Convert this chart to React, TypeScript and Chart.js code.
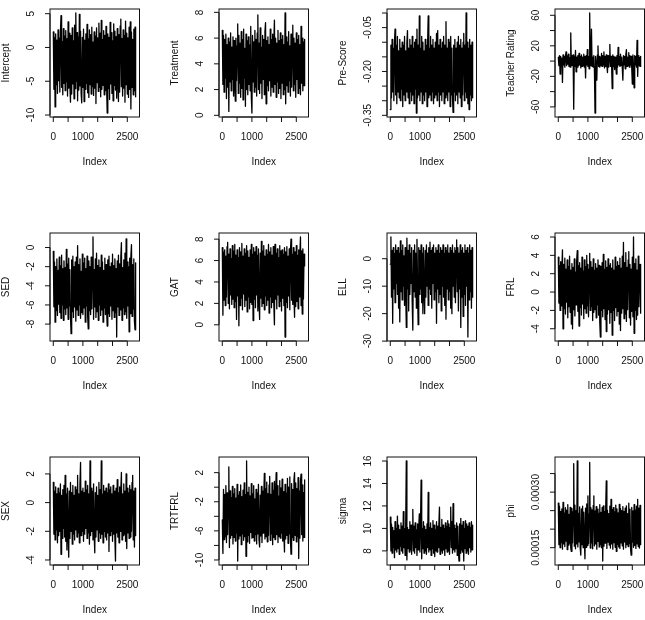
import { useEffect, useRef } from "react";
import { Chart, registerables } from "chart.js";

Chart.register(...registerables);

// Sampler settings: 2800 iterations, one stored draw every 20 iterations.
const N_ITER = 2800;
const THIN = 20;

const indexTicks = [0, 500, 1000, 1500, 2000, 2500];
const indexLabels = [0, 1000, 2500];

// Stored draws for each parameter
const intercept = [
  2.3, -6.2, 1.5, -8.8, 2.0, -5.5, 1.1, -6.8, 2.6, -4.9,
  1.4, -6.6, 2.2, 4.7, -5.9, 0.9, -7.0, 2.8, -5.3, 1.7,
  -6.4, 2.5, -5.1, 1.3, -7.2, 3.8, -6.0, 2.1, -5.6, -8.1,
  1.8, -6.9, 2.9, -5.4, 1.0, -7.6, 3.3, -6.1, 5.1, -5.0,
  2.2, -7.9, 1.6, -6.3, 4.9, -5.7, 2.4, -6.8, -8.2, 1.5,
  -5.9, 2.7, -8.0, 1.1, -6.2, 2.0, -5.3, 3.4, -6.7, 1.3,
  -7.4, 2.6, -5.5, 1.9, -6.9, 3.0, -5.8, 0.8, -7.1, 2.3,
  -6.0, 1.7, -8.3, 2.9, -5.2, 1.4, -6.5, 3.6, -5.9, 2.1,
  -7.3, 4.0, -6.2, 1.2, -5.6, 2.5, -7.0, 1.8, -6.4, 3.1,
  -5.7, -9.7, 2.0, -6.1, 1.5, -7.7, 3.7, -5.4, 2.2, -6.8,
  1.0, -7.9, 3.5, -5.6, 2.4, -6.3, 1.6, -7.5, 2.8, -5.0,
  -8.0, 1.9, -6.6, 3.2, 4.2, -5.8, 1.3, -7.2, 2.6, -6.0,
  1.8, -8.1, 3.9, -5.5, 2.1, -6.9, 1.4, -7.4, 3.0, -6.2,
  3.8, -9.1, 2.3, -5.9, 1.2, -7.0, 2.7, -6.4, 3.0, -7.3,
];

const treatment = [
  6.6, 2.4, 6.2, 1.8, 5.9, 2.9, 6.3, 1.3, 5.5, 2.2,
  6.0, 0.3, 5.7, 2.6, 6.4, 1.9, 5.3, 2.8, 6.1, 1.5,
  5.8, 2.3, 1.1, 6.0, 2.7, 5.4, 7.1, 1.7, 6.2, 2.5,
  5.6, 1.4, 6.5, 2.1, 5.9, 1.2, 6.7, 2.9, 5.2, 0.7,
  6.3, 2.0, 5.8, 1.6, 6.1, 2.4, 5.5, 1.9, 6.9, 1.4,
  0.18, 6.2, 2.6, 5.7, 1.8, 6.6, 2.2, 5.9, 1.5, 6.4,
  7.8, 2.0, 5.6, 1.7, 6.8, 2.5, 5.3, 1.3, 6.2, 2.8,
  5.9, 1.6, 6.5, 7.2, 0.9, 5.8, 2.3, 6.1, 1.9, 5.5,
  2.7, 6.7, 1.5, 5.9, 2.2, 6.3, 1.8, 5.7, 7.4, 2.4,
  6.0, 1.4, 5.6, 2.6, 6.6, 1.7, 5.8, 2.1, 6.4, 1.3,
  5.9, 2.5, 6.2, 1.6, 5.5, 2.0, 7.95, 0.9, 6.1, 2.3,
  5.7, 1.8, 6.5, 2.7, 5.4, 1.5, 6.3, 2.2, 5.8, 7.0,
  1.9, 6.0, 2.4, 5.6, 1.4, 6.4, 2.8, 5.9, 1.7, 6.2,
  2.1, 5.5, 1.6, 6.9, 2.5, 6.0, 1.9, 5.7, 2.3, 5.9,
];

const preScore = [
  -0.33, -0.11, -0.29, -0.09, -0.27, -0.12, -0.30, -0.10, -0.055, -0.28,
  -0.11, -0.31, -0.08, -0.27, -0.13, -0.29, -0.09, -0.30, -0.12, -0.26,
  -0.10, -0.32, -0.11, -0.28, -0.08, -0.30, -0.13, -0.27, -0.10, -0.06,
  -0.29, -0.12, -0.31, -0.09, -0.27, -0.11, -0.30, -0.08, -0.28, -0.12,
  -0.31, -0.10, -0.26, -0.09, -0.342, -0.055, -0.29, -0.11, -0.28, -0.01,
  -0.30, -0.12, -0.27, -0.08, -0.31, -0.10, -0.28, -0.13, -0.30, -0.09,
  -0.27, -0.11, -0.32, -0.10, -0.01, -0.29, -0.12, -0.28, -0.08, -0.30,
  -0.11, -0.27, -0.09, -0.31, -0.12, -0.29, -0.10, -0.28, -0.07, -0.30,
  -0.06, -0.27, -0.11, -0.32, -0.09, -0.28, -0.12, -0.30, -0.10, -0.27,
  -0.08, -0.31, -0.11, -0.29, -0.03, -0.28, -0.12, -0.30, -0.09, -0.27,
  -0.10, -0.32, -0.08, -0.28, -0.12, -0.29, -0.34, -0.11, -0.27, -0.09,
  -0.30, -0.12, -0.28, -0.10, -0.31, -0.08, -0.27, -0.11, -0.29, -0.09,
  -0.32, -0.12, -0.28, -0.10, -0.07, -0.30, -0.11, -0.27, 0.0, -0.29,
  -0.10, -0.31, -0.12, -0.33, -0.09, -0.28, -0.11, -0.30, -0.10, -0.29,
];

const teacherRating = [
  5, -6, 7, -17, 6, -7, 4, -28, 8, -5,
  6, -8, 5, 12, -6, 7, -4, 9, -7, 5,
  -8, 37, -6, 7, -5, 8, -63, 6, -7, 14,
  -14, 5, -8, 7, -6, 10, -5, 6, -9, 8,
  -7, 5, -6, 9, -8, 6, -22, 7, -5, 15,
  -7, 6, -10, 63, -6, 8, 42, -7, 5, -8,
  7, -12, -68, 6, -5, -25, 8, 20, -7, 6,
  -8, 5, -6, 10, -7, 7, -5, 12, -9, 6,
  -7, 8, -6, -15, 7, -8, 5, 22, -7, 6,
  -5, -36, 8, -7, 6, -11, 5, -6, -17, 7,
  -8, 18, -5, 6, -7, 9, -6, 5, -8, -25,
  7, -5, 6, -10, 8, 15, -7, 5, -6, 11,
  -8, 7, -5, 6, -9, -30, 8, -6, -35, 7,
  -5, 6, -8, 27, -20, 7, -6, 5, -7, 6,
];

const sed = [
  -0.4, -6.2, -1.5, -7.8, -2.0, -6.6, -1.2, -7.1, -2.4, -5.9,
  -1.0, -6.8, -1.9, -7.4, -0.8, -6.0, -2.2, -7.6, -1.4, -6.4,
  -2.1, -7.0, -0.2, -6.3, -1.7, -7.5, -1.1, -6.1, -2.3, -7.2,
  -9.0, -1.3, -6.7, -0.9, -7.3, -2.0, -6.2, -1.5, -7.7, -1.0,
  -6.5, 0.2, -7.1, -1.8, -6.0, -1.2, -7.4, -2.5, -6.8, -0.7,
  -7.0, -1.6, -6.3, -1.1, -7.8, -2.2, -6.1, -0.9, -7.2, -8.5,
  -1.4, -6.6, -2.0, -7.0, -1.0, -6.4, -1.7, 1.1, -7.5, -2.3,
  -6.2, -1.2, -7.3, -0.6, -6.7, -1.9, -7.6, -1.3, -6.0, -2.1,
  -7.1, -0.8, -6.5, -1.5, -7.8, -2.4, -6.3, -1.1, -7.0, -1.8,
  -6.4, -8.2, -1.3, -6.9, -0.9, -7.2, -2.0, -6.1, -1.6, -7.5,
  -0.7, -6.6, -1.9, -7.3, -1.2, -6.8, -2.2, -9.35, -1.4, -6.2,
  -0.8, -7.1, -1.7, -6.5, -1.0, 0.5, -7.6, -2.1, -6.3, -1.3,
  -7.0, -0.6, -6.7, 0.9, -7.4, -1.5, -6.1, -2.0, -8.8, -1.1,
  -6.9, -0.9, 0.3, -7.2, -1.8, -6.4, -1.2, -7.7, -8.6, -1.6,
];

const gat = [
  7.2, 0.9, 6.8, 2.3, 7.0, 1.8, 6.4, 2.6, 7.3, 7.7,
  2.0, 6.6, 1.5, 7.1, 2.8, 6.2, 1.9, 7.4, 2.4, 6.9,
  1.6, 7.5, 2.2, 6.5, 0.5, 7.0, 2.7, 6.3, -0.1, 7.2,
  1.8, 6.8, 2.5, 7.6, 1.4, 6.4, 2.9, 7.1, 1.7, 6.7,
  2.3, 7.4, 1.2, 6.9, 2.6, 6.3, 1.5, 7.0, 2.1, 7.5,
  1.9, 6.6, 0.4, 7.2, 2.4, 6.8, 1.6, 7.3, 2.8, 6.5,
  1.3, 7.1, 2.2, 0.5, 6.7, 2.5, 7.8, 1.7, 6.9, 2.0,
  7.4, 1.4, 6.4, 2.7, 7.0, 1.8, 6.6, 2.3, 7.5, 1.1,
  6.8, 2.6, 7.2, 1.6, 6.5, 2.1, 7.3, 1.9, 0.0, 7.5,
  2.4, 6.7, 1.5, 7.1, 2.8, 6.3, 1.7, 7.4, 2.2, 6.9,
  1.3, 7.0, 2.5, 6.6, 1.8, 7.2, -1.14, 6.8, 2.1, 7.3,
  1.6, 6.4, 2.7, 7.1, 1.4, 6.9, 8.0, 2.3, 6.6, 1.9,
  7.2, 2.5, 0.7, 6.8, 1.7, 7.4, 2.2, 6.5, 1.5, 7.0,
  2.6, 6.7, 8.2, 1.8, 6.9, 1.0, 7.1, 2.4, 6.6, 5.5,
];

const ell = [
  -2, 7.9, -14, 3, -23.5, 4, -11, 2, -16, 5,
  -9, 3, -13, 4, -18, 2, -23, 6.5, -12, 3,
  -15, 5, -10, 1, -17, 4, -12, -25, 7.5, -11,
  3, -19, 5, -13, 2, -9, 4, -16, -26, 3,
  -12, 5, -14, 2, -18, 7, -10, -24, 4, -13,
  3, -11, 5, -16, 2, -20, 4, -12, -20, 3,
  -14, 5, -10, 2, -17, 4, -11, 6, -13, 3,
  -18, 4, -9, 5, -15, 2, -12, 4, -23.5, 3,
  -11, 5, -16, 2, -13, 4, -19, 3, -10, 5,
  -14, 2, -17, 4, -22, 3, -11, 5, -15, 2,
  -12, 4, -18, 3, -20, 5, -10, 2, -14, 4,
  -16, 3, 6.8, -12, 4, -19, 2, -11, 5, -25,
  3, -14, 4, -21, 2, -13, 5, -17, 3, -10,
  4, -28.5, 2, -15, 5, -12, 3, -18, 4, -14,
];

const frl = [
  3.8, -1.2, 2.9, -2.0, 3.3, -1.5, 2.6, 4.6, -4.0, 3.0,
  -1.8, 3.7, -2.4, 2.5, -1.1, 3.5, -2.8, 2.8, -1.6, 3.9,
  -2.2, 2.4, -3.5, 3.1, -4.0, 2.7, -1.9, 3.6, -2.6, 2.2,
  -1.4, 3.4, 4.5, -2.1, 2.9, -3.7, 3.2, -1.7, 2.6, -2.5,
  3.8, -1.3, 2.3, -2.9, 3.5, -1.8, 2.8, -2.3, 4.0, -1.5,
  3.0, -2.7, 2.5, 4.2, -2.0, 3.3, -1.6, 2.7, -3.1, 3.6,
  -2.2, 2.4, -1.9, 3.1, -2.8, 2.6, -1.4, 3.5, -2.5, 2.9,
  -3.3, -4.9, 2.8, -2.0, 3.2, -2.7, 4.1, -1.8, 2.5, -3.0,
  3.4, -4.3, 2.7, -2.4, 3.6, -1.9, 2.9, -3.4, 3.1, -2.2,
  2.6, -4.7, 3.5, -2.0, 2.4, -3.1, 3.8, -1.7, 2.8, -2.6,
  3.3, -2.1, 2.9, -3.5, 3.7, -4.2, 2.6, -2.3, 3.9, -1.8,
  5.4, -2.9, 3.2, -2.4, 4.3, -3.2, 2.7, -1.9, 3.5, 4.4,
  -2.8, 3.0, -3.6, 2.5, -2.1, 3.8, -2.7, 6.0, -4.5, 3.1,
  -2.0, 3.6, -3.0, 2.4, -2.5, 3.9, -1.6, 2.8, 3.0, -2.3,
];

const sex = [
  1.4, -2.2, 0.8, -2.6, 1.1, -1.9, 0.6, -2.8, 1.0, -2.3,
  0.7, -2.0, 1.3, -3.6, 0.5, -2.5, 0.9, -1.8, 1.2, -2.4,
  1.9, -2.7, 0.6, -3.3, 1.0, -2.1, -3.8, 0.8, -2.5, 1.4,
  -2.0, 0.7, -2.9, 1.2, -2.2, 0.5, -2.6, 1.1, -1.9, 0.9,
  -2.4, 1.9, -2.1, 0.6, -2.8, 1.3, 2.8, -2.3, 0.8, -2.0,
  1.0, -2.7, 0.7, -2.2, 1.5, -1.8, 0.9, -2.5, 1.2, -2.1,
  0.6, -2.9, 2.9, -2.3, 1.0, -2.0, 0.8, -2.6, 1.3, -2.2,
  -3.5, 0.7, -2.4, 1.1, -1.9, 0.5, -2.7, 1.4, -2.1, 0.9,
  -2.5, 2.9, -2.2, 0.6, -2.8, 1.2, -2.0, 0.8, -2.4, 1.0,
  -2.6, 0.7, -2.1, 1.3, -3.4, 0.9, -2.3, 1.1, -2.0, 0.6,
  -2.7, 1.2, -2.2, 0.8, -2.5, -4.07, 1.0, -2.1, 1.6, -2.4,
  0.7, -2.8, 1.1, -2.0, 0.9, 2.1, -2.6, 0.6, -2.3, 1.3,
  -2.2, 0.8, -2.7, 2.0, -3.2, 1.0, -2.1, 0.7, -2.5, 1.2,
  -2.4, 0.9, -2.0, 1.4, 1.9, -2.6, 0.8, -3.1, 1.0, -2.3,
];

const trtfrl = [
  -4.5, -9.1, -0.3, -7.2, -1.0, -6.8, 0.2, -7.6, -0.8, -6.5,
  -1.2, 2.8, -8.3, -0.5, -7.0, -1.4, -6.6, 0.1, -7.8, -0.9,
  -6.9, -0.2, -7.4, -1.5, -6.3, 0.4, -10.14, -1.1, -7.1, -0.6,
  -6.7, 0.3, -7.9, -1.3, -6.4, -0.4, -7.3, 0.6, -6.8, -1.0,
  -9.5, 3.6, -7.5, -0.7, -6.6, 0.0, -7.7, -1.2, -6.2, 0.5,
  -7.0, -0.9, -6.9, 0.2, -7.4, -1.6, -6.5, -0.3, -7.8, -0.8,
  -6.4, 0.4, -7.2, -8.2, -1.1, -6.7, 0.1, -7.6, -0.5, -6.3,
  -1.3, 1.9, -7.1, -0.2, -6.8, 0.7, -7.5, -0.9, -6.6, 0.3,
  1.5, -7.3, -1.0, -6.4, 0.6, -7.9, -0.4, -6.9, 0.8, -7.2,
  -0.7, 2.0, -6.5, 0.2, -7.6, -1.2, -6.8, 0.9, -7.0, -0.1,
  -6.3, 1.1, -7.4, -0.6, -6.7, -8.9, 0.4, -7.1, -0.8, -6.6,
  1.2, -7.7, 0.0, -6.4, 1.4, -7.0, -9.2, 0.5, -6.9, -0.3,
  -7.3, 1.0, 2.0, -6.6, 0.6, -7.5, -0.2, -6.8, 1.3, -9.8,
  -0.5, -7.0, 0.8, 1.8, -6.5, 0.3, -7.4, -0.7, -6.9, 1.0,
];

const sigma = [
  11.0, 8.0, 10.4, 7.8, 10.1, 8.3, 9.8, 7.4, 10.6, 8.1,
  10.0, 7.9, 11.1, 8.2, 10.3, 7.7, 9.9, 8.4, 10.5, 8.0,
  10.2, 7.8, 11.5, 8.3, 10.0, 7.6, 10.4, 16.0, 7.2, 10.1,
  8.2, 9.9, 7.9, 10.6, 8.1, 10.3, 7.7, 10.0, 11.7, 8.0,
  10.2, 7.8, 10.5, 8.3, 9.9, 7.6, 10.4, 8.1, 10.1, 11.3,
  7.9, 10.3, 14.3, 7.3, 10.0, 8.2, 10.6, 7.8, 10.2, 8.0,
  9.9, 7.7, 10.4, 8.3, 13.2, 7.9, 10.1, 8.1, 10.5, 7.6,
  10.0, 8.2, 10.7, 7.8, 10.3, 7.5, 9.9, 8.0, 10.6, 7.9,
  10.2, 8.3, 10.4, 11.9, 7.7, 10.1, 8.0, 10.8, 7.8, 10.3,
  8.1, 10.0, 7.6, 10.5, 8.2, 10.2, 7.9, 10.7, 8.0, 10.4,
  7.7, 10.1, 11.9, 8.3, 10.6, 7.8, 12.2, 8.1, 10.3, 7.9,
  10.0, 8.2, 10.5, 7.6, 10.2, 8.0, 7.1, 10.4, 7.8, 10.9,
  8.1, 10.3, 7.9, 10.6, 7.1, 10.0, 8.2, 10.7, 7.8, 10.4,
  8.0, 10.2, 7.7, 10.5, 8.3, 10.1, 7.9, 10.6, 8.1, 10.3,
];

const phi = [
  270e-6, 158e-6, 262e-6, 150e-6, 248e-6, 164e-6, 255e-6, 146e-6, 272e-6, 160e-6,
  244e-6, 153e-6, 258e-6, 168e-6, 251e-6, 145e-6, 266e-6, 157e-6, 240e-6, 162e-6,
  259e-6, 149e-6, 140e-6, 256e-6, 163e-6, 247e-6, 377e-6, 154e-6, 265e-6, 147e-6,
  250e-6, 160e-6, 384e-6, 152e-6, 243e-6, 166e-6, 260e-6, 148e-6, 130e-6, 255e-6,
  158e-6, 262e-6, 150e-6, 246e-6, 165e-6, 120e-6, 257e-6, 151e-6, 268e-6, 156e-6,
  290e-6, 161e-6, 241e-6, 380e-6, 149e-6, 258e-6, 163e-6, 252e-6, 147e-6, 264e-6,
  290e-6, 155e-6, 249e-6, 160e-6, 261e-6, 146e-6, 254e-6, 167e-6, 243e-6, 152e-6,
  266e-6, 158e-6, 245e-6, 150e-6, 259e-6, 114e-6, 263e-6, 154e-6, 248e-6, 162e-6,
  256e-6, 330e-6, 148e-6, 251e-6, 165e-6, 242e-6, 157e-6, 262e-6, 149e-6, 280e-6,
  160e-6, 253e-6, 146e-6, 258e-6, 164e-6, 247e-6, 151e-6, 265e-6, 140e-6, 255e-6,
  159e-6, 244e-6, 152e-6, 267e-6, 148e-6, 256e-6, 163e-6, 250e-6, 155e-6, 261e-6,
  146e-6, 248e-6, 166e-6, 257e-6, 150e-6, 263e-6, 158e-6, 242e-6, 153e-6, 270e-6,
  161e-6, 254e-6, 147e-6, 130e-6, 259e-6, 165e-6, 249e-6, 151e-6, 266e-6, 156e-6,
  252e-6, 148e-6, 262e-6, 160e-6, 280e-6, 153e-6, 257e-6, 149e-6, 264e-6, 158e-6,
];

// Y-axis tick positions and the subset that carries a label
const interceptTicks = [-10, -5, 0, 5];
const treatmentTicks = [0, 2, 4, 6, 8];
const preScoreTicks = [-0.35, -0.3, -0.25, -0.2, -0.15, -0.1, -0.05, 0];
const preScoreLabels = [-0.35, -0.2, -0.05];
const teacherTicks = [-60, -40, -20, 0, 20, 40, 60];
const teacherLabels = [-60, -20, 20, 60];
const sedTicks = [-8, -6, -4, -2, 0];
const gatTicks = [0, 2, 4, 6, 8];
const ellTicks = [-30, -20, -10, 0];
const frlTicks = [-4, -2, 0, 2, 4, 6];
const sexTicks = [-4, -2, 0, 2];
const trtfrlTicks = [-10, -8, -6, -4, -2, 0, 2];
const trtfrlLabels = [-10, -6, -2, 2];
const sigmaTicks = [8, 10, 12, 14, 16];
const phiTicks = [0.00015, 0.0002, 0.00025, 0.0003, 0.00035];
const phiLabels = [0.00015, 0.0003];

type PanelSpec = {
  title: string;
  values: number[];
  ticks: number[];
  labels: number[];
  digits: number;
};

const panels: PanelSpec[] = [
  { title: "Intercept", values: intercept, ticks: interceptTicks, labels: interceptTicks, digits: 0 },
  { title: "Treatment", values: treatment, ticks: treatmentTicks, labels: treatmentTicks, digits: 0 },
  { title: "Pre-Score", values: preScore, ticks: preScoreTicks, labels: preScoreLabels, digits: 2 },
  { title: "Teacher Rating", values: teacherRating, ticks: teacherTicks, labels: teacherLabels, digits: 0 },
  { title: "SED", values: sed, ticks: sedTicks, labels: sedTicks, digits: 0 },
  { title: "GAT", values: gat, ticks: gatTicks, labels: gatTicks, digits: 0 },
  { title: "ELL", values: ell, ticks: ellTicks, labels: ellTicks, digits: 0 },
  { title: "FRL", values: frl, ticks: frlTicks, labels: frlTicks, digits: 0 },
  { title: "SEX", values: sex, ticks: sexTicks, labels: sexTicks, digits: 0 },
  { title: "TRTFRL", values: trtfrl, ticks: trtfrlTicks, labels: trtfrlLabels, digits: 0 },
  { title: "sigma", values: sigma, ticks: sigmaTicks, labels: sigmaTicks, digits: 0 },
  { title: "phi", values: phi, ticks: phiTicks, labels: phiLabels, digits: 5 },
];

// Grid geometry (plot-box corners)
const COL_LEFT = [50, 219, 387, 555];
const ROW_TOP = [9, 233, 457];
const BOX_W = 89.5;
const BOX_H = 108;
const PAD_L = 50;
const PAD_T = 9;
const CANVAS_W = 160;
const CANVAS_H = 190;
const TICK_LEN = 5;
const FONT = '10px "Liberation Sans", Arial, Helvetica, sans-serif';
const INK = "#111";

function TracePanel({ spec, left, top }: { spec: PanelSpec; left: number; top: number }) {
  const ref = useRef<HTMLCanvasElement | null>(null);

  useEffect(() => {
    const canvas = ref.current;
    if (!canvas) return;

    const points = spec.values.map((v, i) => ({ x: 1 + i * THIN, y: v }));
    const lo = Math.min(...spec.values);
    const hi = Math.max(...spec.values);
    const yPad = (hi - lo) * 0.04;
    const xPad = (N_ITER - 1) * 0.04;

    const rAxes = {
      id: "rAxes",
      afterDraw(chart: Chart) {
        const { ctx, chartArea: a } = chart;
        const xs = chart.scales.x;
        const ys = chart.scales.y;
        ctx.save();
        ctx.strokeStyle = INK;
        ctx.lineWidth = 1;
        ctx.strokeRect(a.left, a.top, a.right - a.left, a.bottom - a.top);

        ctx.beginPath();
        const xp = indexTicks.map((v) => xs.getPixelForValue(v));
        ctx.moveTo(xp[0], a.bottom);
        ctx.lineTo(xp[xp.length - 1], a.bottom);
        xp.forEach((p) => {
          ctx.moveTo(p, a.bottom);
          ctx.lineTo(p, a.bottom + TICK_LEN);
        });
        const yp = spec.ticks.map((v) => ys.getPixelForValue(v));
        ctx.moveTo(a.left, yp[0]);
        ctx.lineTo(a.left, yp[yp.length - 1]);
        yp.forEach((p) => {
          ctx.moveTo(a.left, p);
          ctx.lineTo(a.left - TICK_LEN, p);
        });
        ctx.stroke();

        ctx.fillStyle = INK;
        ctx.font = FONT;
        ctx.textAlign = "center";
        ctx.textBaseline = "middle";
        indexLabels.forEach((v) => ctx.fillText(String(v), xs.getPixelForValue(v), a.bottom + 20));
        ctx.fillText("Index", (a.left + a.right) / 2, a.bottom + 45);

        spec.labels.forEach((v) => {
          ctx.save();
          ctx.translate(a.left - 18.5, ys.getPixelForValue(v));
          ctx.rotate(-Math.PI / 2);
          ctx.fillText(v.toFixed(spec.digits), 0, 0);
          ctx.restore();
        });

        ctx.save();
        ctx.translate(a.left - 43.5, (a.top + a.bottom) / 2);
        ctx.rotate(-Math.PI / 2);
        ctx.fillText(spec.title, 0, 0);
        ctx.restore();
        ctx.restore();
      },
    };

    const chart = new Chart(canvas, {
      type: "line",
      data: {
        datasets: [
          {
            data: points,
            borderColor: "#000",
            borderWidth: 1.3,
            borderJoinStyle: "round",
            borderCapStyle: "round",
            pointRadius: 0,
            tension: 0,
            fill: false,
          },
        ],
      },
      options: {
        animation: false,
        responsive: false,
        events: [],
        layout: {
          padding: {
            left: PAD_L,
            top: PAD_T,
            right: CANVAS_W - PAD_L - BOX_W,
            bottom: CANVAS_H - PAD_T - BOX_H,
          },
        },
        plugins: { legend: { display: false }, tooltip: { enabled: false } },
        scales: {
          x: { type: "linear", display: false, min: 1 - xPad, max: N_ITER + xPad },
          y: { type: "linear", display: false, min: lo - yPad, max: hi + yPad },
        },
      },
      plugins: [rAxes],
    });

    return () => chart.destroy();
  }, [spec]);

  return (
    <canvas
      ref={ref}
      width={CANVAS_W}
      height={CANVAS_H}
      style={{ position: "absolute", left, top, width: CANVAS_W, height: CANVAS_H }}
    />
  );
}

export default function App() {
  return (
    <div
      style={{
        position: "absolute",
        left: 0,
        top: 0,
        width: 645,
        height: 620,
        overflow: "hidden",
        background: "#fff",
      }}
    >
      {panels.map((spec, k) => {
        const col = k % 4;
        const row = Math.floor(k / 4);
        return (
          <TracePanel
            key={spec.title}
            spec={spec}
            left={COL_LEFT[col] - PAD_L}
            top={ROW_TOP[row] - PAD_T}
          />
        );
      })}
    </div>
  );
}
